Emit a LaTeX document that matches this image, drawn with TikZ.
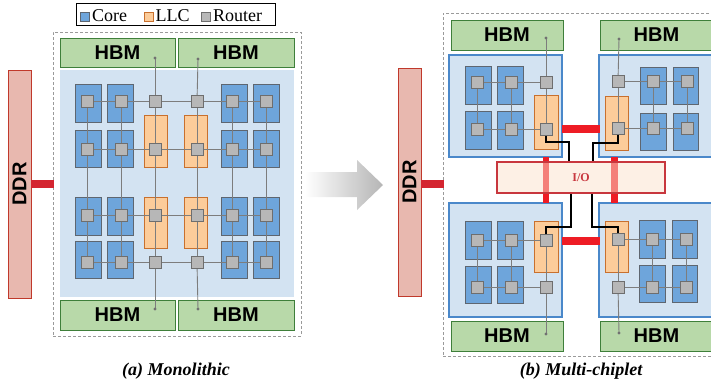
\documentclass[tikz,border=0pt]{standalone}
\usepackage{fontspec}
\setmainfont{Liberation Serif}
\newfontfamily\hbmfont{Liberation Sans}
\pgfdeclarelayer{back}
\pgfdeclarelayer{mid}
\pgfsetlayers{back,mid,main}
\definecolor{coreF}{HTML}{6EA5DB}
\definecolor{coreB}{HTML}{5E6670}
\definecolor{llcF}{HTML}{FCCC9A}
\definecolor{llcB}{HTML}{C8702E}
\definecolor{routerF}{HTML}{B7B7B7}
\definecolor{routerB}{HTML}{6E6E6E}
\definecolor{bgblue}{HTML}{D3E3F2}
\definecolor{chipB}{HTML}{4A88CA}
\definecolor{hbmF}{HTML}{B8D9A9}
\definecolor{hbmB}{HTML}{3E7F3A}
\definecolor{ddrF}{HTML}{E8B8AF}
\definecolor{ddrB}{HTML}{C0392B}
\definecolor{barA}{HTML}{D42530}
\definecolor{barB}{HTML}{EE1C25}
\definecolor{barL}{HTML}{F4807A}
\definecolor{ioF}{HTML}{FDF0E5}
\definecolor{ioB}{HTML}{C8373E}
\definecolor{gridc}{HTML}{7D7D7D}
\definecolor{dashc}{HTML}{9A9A9A}
\newcommand\mybox[7]{\node[#2, minimum width={(#5)-(#3)}, minimum height={(#6)-(#4)}] (#1) at ({((#3)+(#5))/2},{((#4)+(#6))/2}) {#7};}
\tikzset{
  router/.style={draw=routerB, fill=routerF, line width=0.9pt, minimum size=12pt, inner sep=0pt, outer sep=0pt},
  corebox/.style={draw=coreB, fill=coreF, line width=0.9pt, inner sep=0pt, outer sep=0pt},
  llcbox/.style={draw=llcB, fill=llcF, line width=0.9pt, inner sep=0pt, outer sep=0pt},
  hbmbox/.style={draw=hbmB, fill=hbmF, line width=0.9pt, inner sep=0pt, outer sep=0pt, font=\hbmfont\bfseries\fontsize{20}{22}\selectfont},
  ddrbox/.style={draw=ddrB, fill=ddrF, line width=0.9pt, inner sep=0pt, outer sep=0pt},
  bgbox/.style={fill=bgblue, inner sep=0pt, outer sep=0pt},
  chipbox/.style={draw=chipB, fill=bgblue, line width=1.1pt, inner sep=0pt, outer sep=0pt},
  dashbox/.style={draw=dashc, dashed, dash pattern=on 3pt off 2pt, line width=0.8pt, inner sep=0pt, outer sep=0pt},
  redbar/.style={fill=#1, inner sep=0pt, outer sep=0pt},
  gridline/.style={draw=gridc, line width=0.9pt},
  ioline/.style={draw=black, line width=1.2pt},
  hdot/.style={circle, fill=gridc!90!black, inner sep=0pt, minimum size=3.4pt},
  legsq/.style={minimum size=9pt, inner sep=0pt, line width=0.9pt},
  legtxt/.style={anchor=base west, inner sep=0pt, font=\fontsize{18}{20}\selectfont},
  caption/.style={font=\bfseries\itshape\fontsize{18}{20}\selectfont, inner sep=0pt}
}
\begin{document}
\begin{tikzpicture}[x=1pt,y=-1pt]
\useasboundingbox (0,0) rectangle (711,383);

% ---------------- Legend ----------------
\mybox{legend}{draw=black, line width=1pt, inner sep=0pt}{76}{3}{275}{25}{}
\node[legsq, draw=coreB, fill=coreF] (lgc) at (84.5,16.5) {};
\node[legtxt] (lgct) at (92,21.5) {Core};
\node[legsq, draw=llcB, fill=llcF] (lgl) at (148.5,16.5) {};
\node[legtxt] (lglt) at (155.5,21.5) {LLC};
\node[legsq, draw=routerB, fill=routerF] (lgr) at (205.5,16.5) {};
\node[legtxt] (lgrt) at (213,21.5) {Router};

% ---------------- (a) Monolithic ----------------
\begin{pgfonlayer}{back}
\mybox{dashA}{dashbox}{53}{32}{301}{336}{}
\mybox{ddrA}{ddrbox}{8}{70}{31}{298}{}
\mybox{barddrA}{redbar=barA}{31}{180}{53.5}{188}{}
\mybox{hbmA1}{hbmbox}{60}{38}{175}{67}{HBM}
\mybox{hbmA2}{hbmbox}{178}{38}{294}{67}{HBM}
\mybox{hbmA3}{hbmbox}{60}{300}{175}{330}{HBM}
\mybox{hbmA4}{hbmbox}{178}{300}{294}{330}{HBM}
\mybox{bgA}{bgbox}{60}{70}{294}{297}{}
\foreach \cx [count=\c] in {88,120,234,266}{
  \foreach \ya/\yb [count=\r] in {84/122,130/167,197/235,241/278}{
    \mybox{LC\r\c}{corebox}{\cx-13}{\ya}{\cx+13}{\yb}{}
  }
}
\foreach \cx [count=\c] in {156,196}{
  \foreach \ya/\yb [count=\r] in {115/167,197/248}{
    \mybox{LL\r\c}{llcbox}{\cx-11.5}{\ya}{\cx+11.5}{\yb}{}
  }
}
\end{pgfonlayer}
\node[font=\hbmfont\bfseries\fontsize{20}{22}\selectfont, rotate=90, inner sep=0pt] (ddrAt) at (19.5,184) {DDR};

\foreach \x [count=\c] in {87,121,155,197,232,266}{
  \foreach \y [count=\r] in {101.5,149,215.5,262.5}{
    \node[router] (L\r\c) at (\x,\y) {};
  }
}
\node[hdot] (dA1) at (155,58) {};
\node[hdot] (dA2) at (198,59) {};
\node[hdot] (dA3) at (155,309) {};
\node[hdot] (dA4) at (198,309) {};
\begin{pgfonlayer}{mid}
\foreach \r in {1,...,4}{ \draw[gridline] (L\r1.center) -- (L\r6.center); }
\foreach \c in {1,...,6}{ \draw[gridline] (L1\c.center) -- (L4\c.center); }
\draw[gridline] (L13.center) -- (dA1.center);
\draw[gridline] (L14.center) -- (dA2.center);
\draw[gridline] (L43.center) -- (dA3.center);
\draw[gridline] (L44.center) -- (dA4.center);
\end{pgfonlayer}
\node[caption] (capA) at (176,371) {(a) Monolithic};

% ---------------- arrow ----------------
\shade[left color=white, right color=gray!58] (305,172) -- (357,172) -- (357,160) -- (383,185) -- (357,210) -- (357,197) -- (305,197) -- cycle;

% ---------------- (b) Multi-chiplet ----------------
\begin{pgfonlayer}{back}
\mybox{dashB}{dashbox}{443}{13}{722}{356}{}
\mybox{ddrB}{ddrbox}{398}{68}{421}{296}{}
\mybox{barddrB}{redbar=barA}{421}{180}{443.5}{188}{}
\mybox{hbmB1}{hbmbox}{451}{20}{563}{50}{HBM}
\mybox{hbmB2}{hbmbox}{600}{20}{713}{50}{HBM}
\mybox{hbmB3}{hbmbox}{451}{321}{563}{351}{HBM}
\mybox{hbmB4}{hbmbox}{600}{321}{713}{351}{HBM}
\mybox{chA}{chipbox}{449}{55}{562}{157}{}
\mybox{chB}{chipbox}{599}{55}{713}{157}{}
\mybox{chC}{chipbox}{449}{203}{562}{317}{}
\mybox{chD}{chipbox}{599}{203}{713}{317}{}
% TL chiplet
\mybox{AC11}{corebox}{465}{66}{491}{104}{}
\mybox{AC12}{corebox}{497}{66}{523}{104}{}
\mybox{AC21}{corebox}{465}{111}{491}{149}{}
\mybox{AC22}{corebox}{497}{111}{523}{149}{}
\mybox{AL}{llcbox}{534}{95}{558}{149}{}
% TR chiplet
\mybox{BC12}{corebox}{640}{67}{666}{104}{}
\mybox{BC13}{corebox}{673}{67}{698}{104}{}
\mybox{BC22}{corebox}{640}{113}{666}{150}{}
\mybox{BC23}{corebox}{673}{113}{698}{150}{}
\mybox{BL}{llcbox}{605}{96}{628}{150}{}
% BL chiplet
\mybox{CC11}{corebox}{465}{221}{491}{259}{}
\mybox{CC12}{corebox}{497}{221}{523}{259}{}
\mybox{CC21}{corebox}{465}{266}{491}{303}{}
\mybox{CC22}{corebox}{497}{266}{523}{303}{}
\mybox{CL}{llcbox}{534}{221}{558}{272}{}
% BR chiplet
\mybox{DC12}{corebox}{639}{220}{665}{258}{}
\mybox{DC13}{corebox}{672}{220}{697}{258}{}
\mybox{DC22}{corebox}{639}{265}{665}{302}{}
\mybox{DC23}{corebox}{672}{265}{697}{302}{}
\mybox{DL}{llcbox}{605}{221}{628}{272}{}
\end{pgfonlayer}
\node[font=\hbmfont\bfseries\fontsize{20}{22}\selectfont, rotate=90, inner sep=0pt] (ddrBt) at (409.5,182) {DDR};

% red links
\mybox{vbar1}{redbar=barB}{543}{157}{549}{203}{}
\mybox{vbar2}{redbar=barB}{611}{157}{618}{203}{}
\mybox{hbar1}{redbar=barB}{562}{125}{600}{133}{}
\mybox{hbar2}{redbar=barB}{562}{237}{600}{245}{}
\mybox{io}{draw=ioB, fill=ioF, line width=1.1pt, inner sep=0pt}{497}{162}{665}{193}{}
\mybox{vbar1l}{redbar=barL}{543}{162.6}{549}{192.4}{}
\mybox{vbar2l}{redbar=barL}{611}{162.6}{618}{192.4}{}
\node[text=ioB, font=\bfseries\fontsize{12}{14}\selectfont, inner sep=0pt] (iot) at (581,178) {I/O};

% routers
\foreach \x [count=\c] in {477,511,546}{
  \foreach \y [count=\r] in {82,129}{ \node[router] (A\r\c) at (\x,\y) {}; }
  \foreach \y [count=\r] in {240,287}{ \node[router] (C\r\c) at (\x,\y) {}; }
}
\foreach \x [count=\c] in {618,653,687}{
  \foreach \y [count=\r] in {81,128}{ \node[router] (B\r\c) at (\x,\y) {}; }
}
\foreach \x [count=\c] in {618,652,686}{
  \foreach \y [count=\r] in {239,287}{ \node[router] (D\r\c) at (\x,\y) {}; }
}
\node[hdot] (dB1) at (546,38) {};
\node[hdot] (dB2) at (619,39) {};
\node[hdot] (dB3) at (546,334) {};
\node[hdot] (dB4) at (619,333) {};
\coordinate (tA) at (569,142);
\coordinate (tB) at (593,143);
\coordinate (tC) at (571,227);
\coordinate (tD) at (592,227);
\begin{pgfonlayer}{mid}
\foreach \n in {A,B,C,D}{
  \foreach \r in {1,2}{ \draw[gridline] (\n\r1.center) -- (\n\r3.center); }
  \foreach \c in {1,2,3}{ \draw[gridline] (\n1\c.center) -- (\n2\c.center); }
}
\draw[gridline] (A13.center) -- (dB1.center);
\draw[gridline] (B11.center) -- (dB2.center);
\draw[gridline] (C23.center) -- (dB3.center);
\draw[gridline] (D21.center) -- (dB4.center);
\draw[ioline] (A23.center) |- (tA) -- (tA |- io.north);
\draw[ioline] (B21.center) |- (tB) -- (tB |- io.north);
\draw[ioline] (C13.center) |- (tC) -- (tC |- io.south);
\draw[ioline] (D11.center) |- (tD) -- (tD |- io.south);
\end{pgfonlayer}
\node[caption] (capB) at (581,371) {(b) Multi-chiplet};
\end{tikzpicture}
\end{document}
